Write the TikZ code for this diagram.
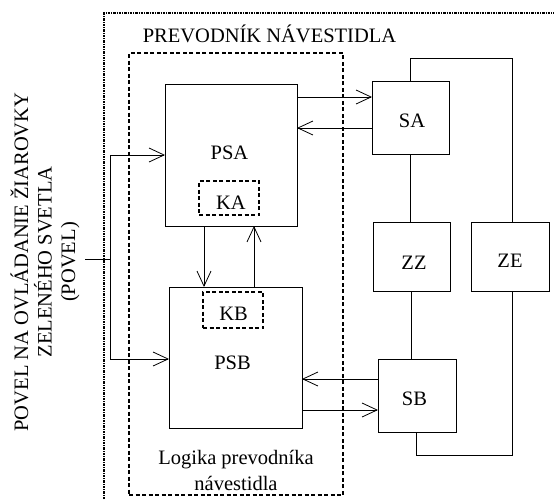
\documentclass[tikz,border=0pt]{standalone}
\usepackage{fontspec}
\setmainfont{Liberation Serif}
\usetikzlibrary{arrows.meta}
\begin{document}
\begin{tikzpicture}[x=1pt,y=-1pt,
  every node/.style={font=\fontsize{20.5}{24}\selectfont, inner sep=0pt, outer sep=0pt},
  box/.style={draw, line width=0.8pt, minimum width=#1, rectangle},
  dbox/.style={draw, line width=1.3pt, dash pattern=on 4pt off 2.5pt, rectangle},
  arr/.style={line width=0.8pt, -{Straight Barb[length=15pt,width=14pt,line width=0.8pt]}},
  ln/.style={line width=0.8pt},
  txt/.style={}]
\useasboundingbox (0,0) rectangle (554,499);
% outer dotted frame
\draw[line width=1.3pt, dash pattern=on 2.5pt off 1pt on 1pt off 1pt] (104,499) -- (104,13) -- (554,13);
\node[anchor=base] (title) at (269.5,42) {PREVODNÍK NÁVESTIDLA};
% logic dashed box
\node[dbox, minimum width=214, minimum height=442] (logika) at (236,274) {};
\node[align=center, font=\fontsize{20.5}{26}\selectfont] (logtxt) at (236,470) {Logika prevodníka\\návestidla};
% PSA / PSB
\node[box=132, minimum height=142] (PSA) at (231,155) {};
\node (PSAt) at (229.5,153) {PSA};
\node[dbox, line width=1.2pt, minimum width=60, minimum height=34] (KA) at (229,198) {};
\node (KAt) at (231,202.5) {KA};
\node[box=133, minimum height=141] (PSB) at (235.5,357.5) {};
\node (PSBt) at (232.5,363) {PSB};
\node[dbox, line width=1.2pt, minimum width=60, minimum height=36] (KB) at (233,310) {};
\node (KBt) at (233.5,314) {KB};
% right blocks
\node[box=77, minimum height=73] (SA) at (410.5,117.5) {};
\node (SAt) at (412,121) {SA};
\node[box=77, minimum height=69] (ZZ) at (411.5,256.5) {};
\node (ZZt) at (414,262.5) {ZZ};
\node[box=78, minimum height=69] (ZE) at (510,256.5) {};
\node (ZEt) at (510,261) {ZE};
\node[box=78, minimum height=73] (SB) at (417,395.5) {};
\node (SBt) at (414.5,398.5) {SB};
% input text
\node[rotate=90, align=center, font=\fontsize{20.5}{23.5}\selectfont] (povel) at (45,262) {POVEL NA OVLÁDANIE ŽIAROVKY\\ZELENÉHO SVETLA\\(POVEL)};
\coordinate (in0) at (85,259);
\coordinate (in1) at (110,259);
\coordinate (inT) at (110,155);
\coordinate (inB) at (110,359);
\draw[ln] (in0) -- (in1);
\draw[arr] (in1) -- (inT) -- (inT -| PSA.west);
\draw[arr] (in1) -- (inB) -- (inB -| PSB.west);
% PSA <-> SA
\draw[arr] ([yshift=-13pt]PSA.north east) -- ([yshift=-13pt]PSA.north east -| SA.west);
\draw[arr] ([yshift=-44pt]PSA.north east -| SA.west) -- ([yshift=-44pt]PSA.north east);
% PSB <-> SB
\draw[arr] ([yshift=-20pt]SB.north west) -- ([yshift=-20pt]SB.north west -| PSB.east);
\draw[arr] ([yshift=-51pt]SB.north west -| PSB.east) -- ([yshift=-51pt]SB.north west);
% PSA <-> PSB
\draw[arr] ([xshift=39pt]PSA.south west) -- ([xshift=39pt]PSA.south west |- PSB.north);
\draw[arr] ([xshift=89pt]PSA.south west |- PSB.north) -- ([xshift=89pt]PSA.south west);
% right wiring
\coordinate (topR) at (512,58);
\draw[ln] (SA.north) -- (SA.north |- topR) -- (topR) -- (topR |- ZE.north);
\draw[ln] (SA.south) -- (SA.south |- ZZ.north);
\draw[ln] (ZZ.south) -- (ZZ.south |- SB.north);
\coordinate (botR) at (512,455);
\draw[ln] ([xshift=-1pt]SB.south) -- ([xshift=-1pt]SB.south |- botR) -- (botR) -- (botR |- ZE.south);
\end{tikzpicture}
\end{document}
